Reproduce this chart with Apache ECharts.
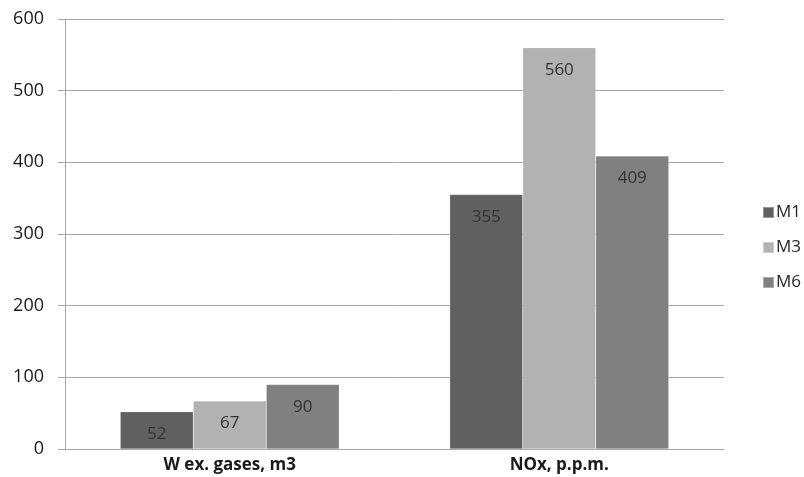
<!DOCTYPE html>
<html>
<head>
<meta charset="utf-8">
<script src="https://cdn.jsdelivr.net/npm/echarts@6/dist/echarts.min.js"></script>
<style>
  html, body { margin: 0; padding: 0; background: #ffffff; }
  #chart { width: 804px; height: 477px; }
</style>
</head>
<body>
<div id="chart"></div>
<script>
// Categories and series values
const categories = ['W ex. gases, m3', 'NOx, p.p.m.'];
const m1 = [52, 355];
const m3 = [67, 560];
const m6 = [90, 409];
const seriesNames = ['M1', 'M3', 'M6'];
const seriesColors = ['#606060', '#b2b2b2', '#808080'];

const chart = echarts.init(document.getElementById('chart'), null, { renderer: 'canvas' });

function barSeries(name, data, color) {
  return {
    name: name,
    type: 'bar',
    data: data,
    barWidth: 73,
    barGap: '0%',
    itemStyle: { color: color, borderColor: 'rgba(255,255,255,0.35)', borderWidth: 0.5 },
    label: {
      show: true,
      position: 'insideTop',
      distance: 14,
      color: '#333333',
      fontSize: 17,
      fontFamily: 'Open Sans, DejaVu Sans, sans-serif'
    }
  };
}

chart.setOption({
  animation: false,
  backgroundColor: '#ffffff',
  textStyle: { fontFamily: 'Open Sans, DejaVu Sans, sans-serif' },
  grid: { left: 65, right: 80, top: 19, bottom: 28, containLabel: false },
  legend: {
    orient: 'vertical',
    left: 757,
    top: 199,
    itemWidth: 11,
    itemHeight: 11,
    itemGap: 18,
    icon: 'rect',
    textStyle: { fontSize: 17, color: '#262626', padding: [0, 0, 0, -3] },
    data: seriesNames
  },
  xAxis: {
    type: 'category',
    data: categories,
    axisLine: { lineStyle: { color: '#a6a6a6', width: 1 } },
    axisTick: { show: false },
    axisLabel: { fontSize: 17, fontWeight: 'bold', color: '#1a1a1a', margin: 8 }
  },
  yAxis: {
    type: 'value',
    min: 0,
    max: 600,
    interval: 100,
    axisLine: { show: true, lineStyle: { color: '#a6a6a6' } },
    axisTick: { show: true, length: 7, lineStyle: { color: '#a6a6a6' } },
    axisLabel: { fontSize: 18, color: '#1a1a1a', margin: 21 },
    splitLine: { lineStyle: { color: '#a6a6a6' } }
  },
  series: [
    barSeries(seriesNames[0], m1, seriesColors[0]),
    barSeries(seriesNames[1], m3, seriesColors[1]),
    barSeries(seriesNames[2], m6, seriesColors[2])
  ]
});
</script>
</body>
</html>
